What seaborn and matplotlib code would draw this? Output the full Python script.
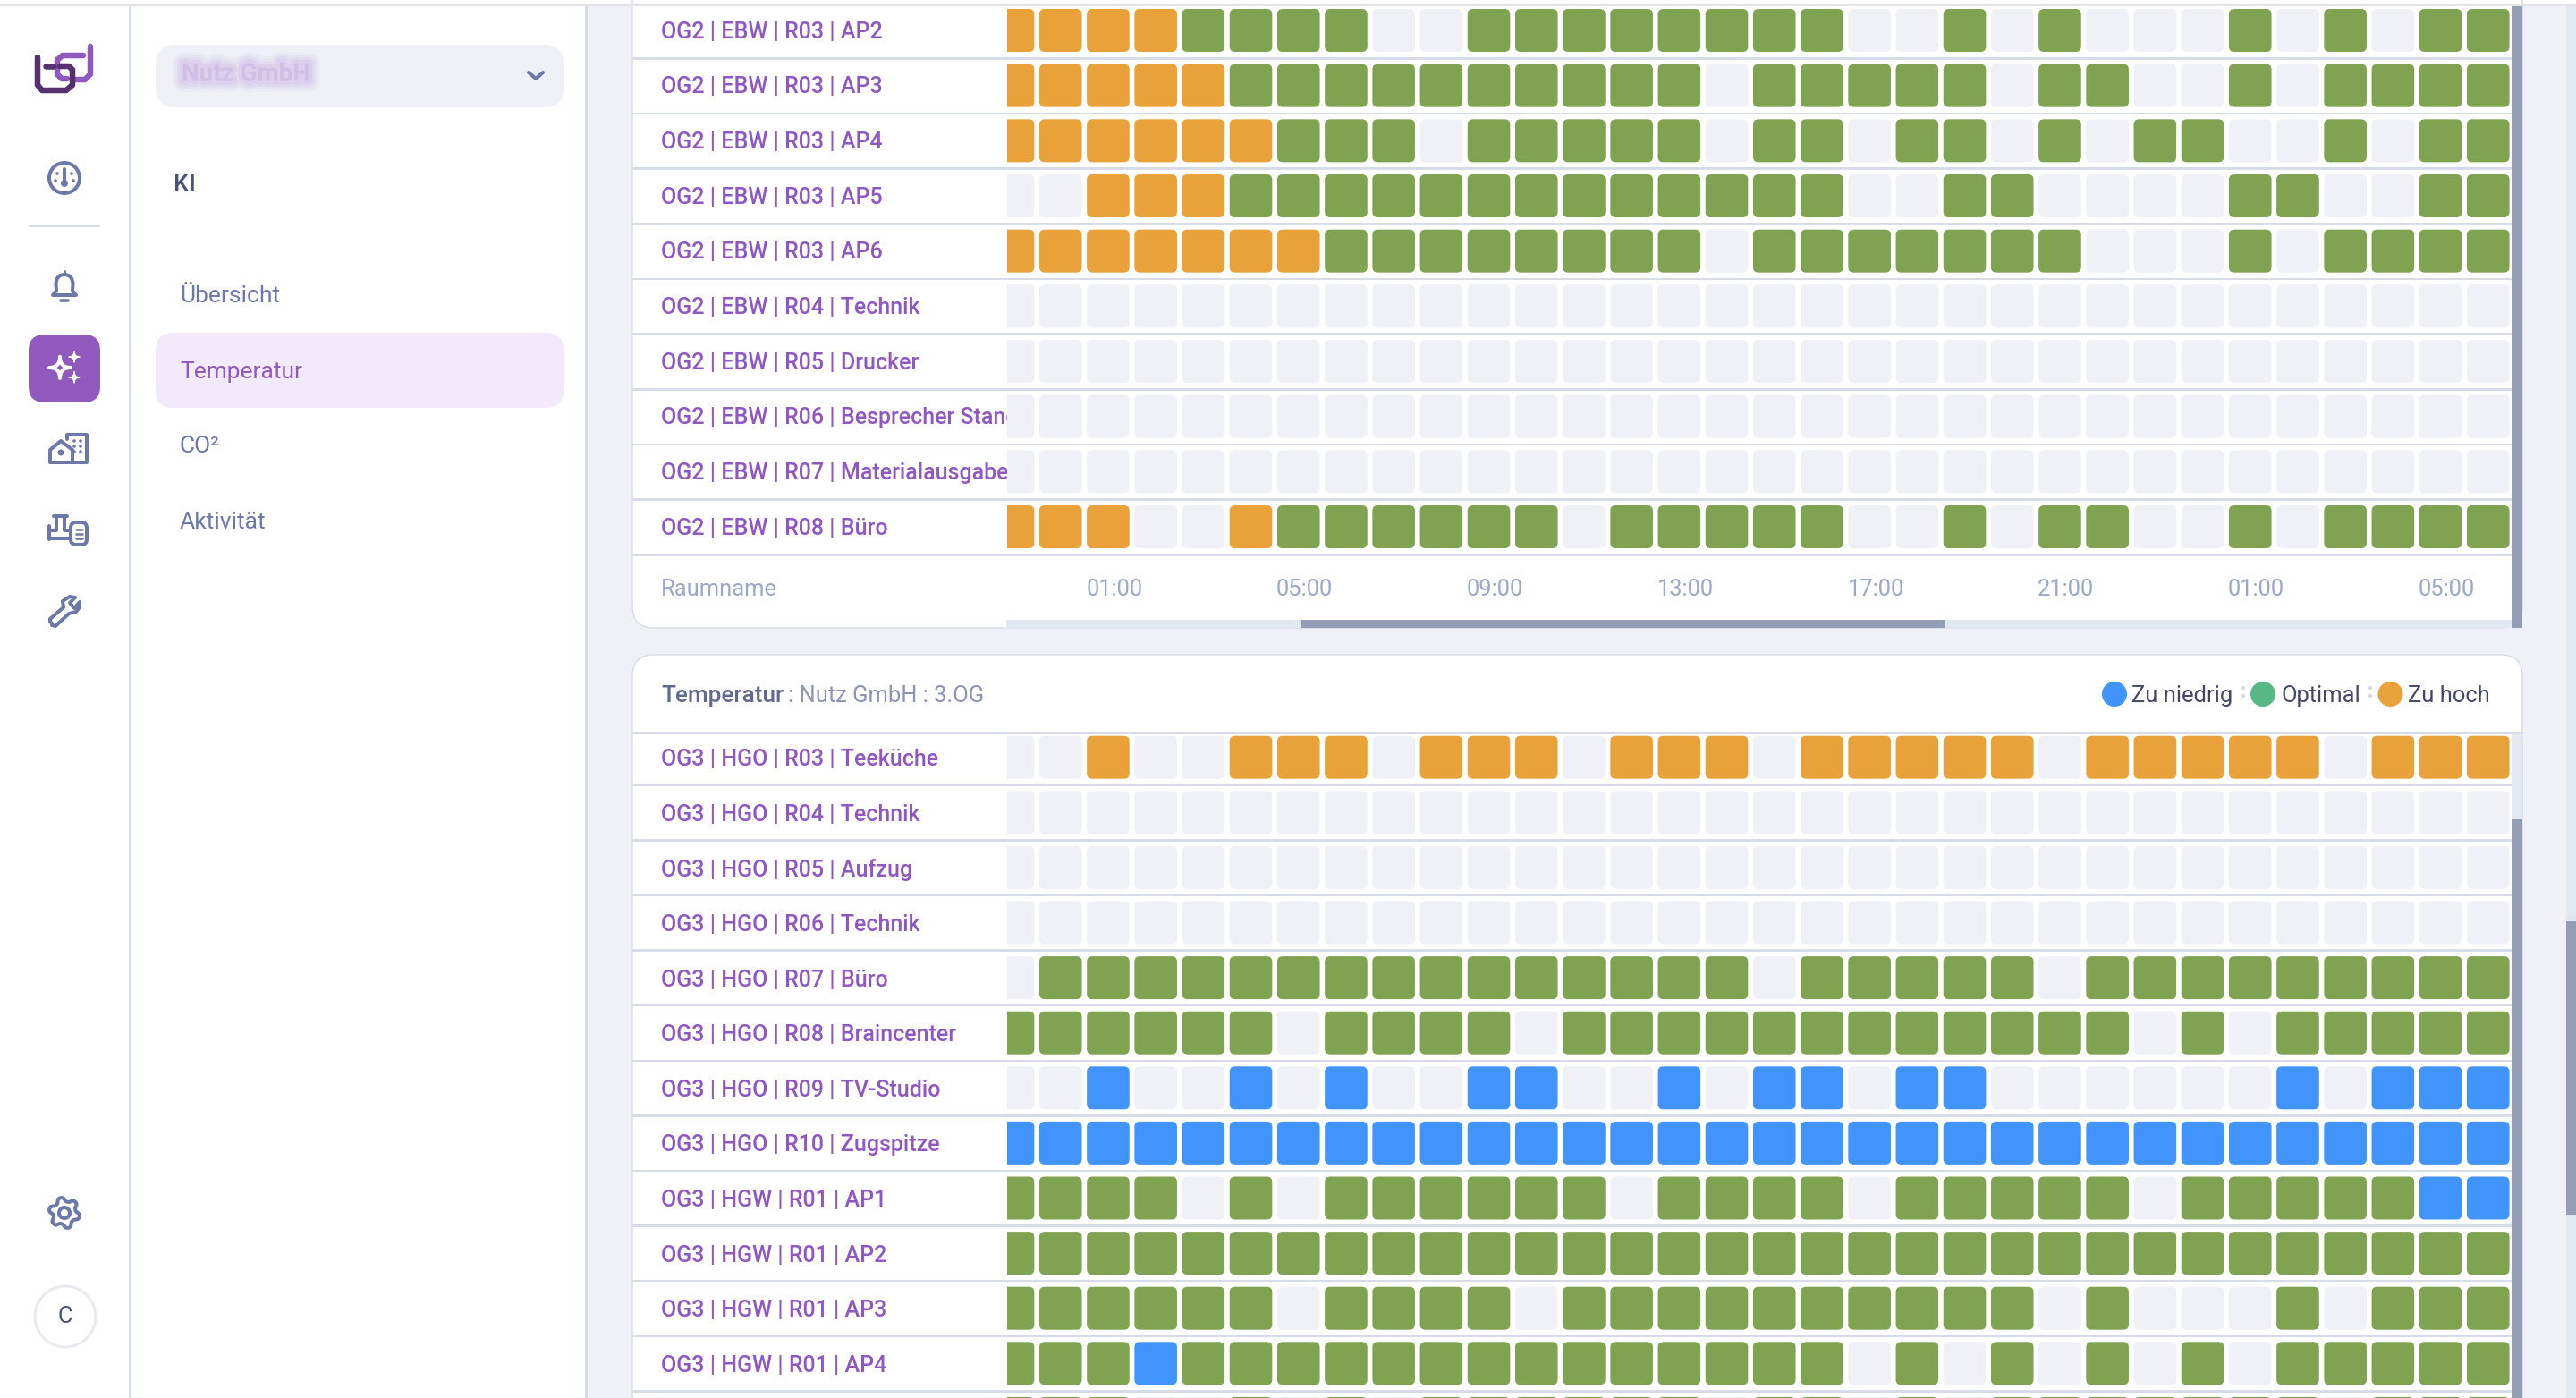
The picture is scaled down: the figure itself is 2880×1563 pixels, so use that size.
import numpy as np
import pandas as pd
import matplotlib
matplotlib.use("Agg")
import matplotlib.pyplot as plt
import seaborn as sns
from matplotlib.markers import MarkerStyle
from matplotlib.patches import Circle, FancyBboxPatch, PathPatch, Rectangle
from matplotlib.path import Path
from matplotlib.transforms import Bbox, ScaledTranslation
import matplotlib.patheffects as pe

# ---- data: O zu hoch, G optimal, B zu niedrig, _ no data ----
rooms_og2 = ["OG2 | EBW | R03 | AP2", "OG2 | EBW | R03 | AP3", "OG2 | EBW | R03 | AP4",
             "OG2 | EBW | R03 | AP5", "OG2 | EBW | R03 | AP6", "OG2 | EBW | R04 | Technik",
             "OG2 | EBW | R05 | Drucker", "OG2 | EBW | R06 | Besprecher Standort",
             "OG2 | EBW | R07 | Materialausgabe", "OG2 | EBW | R08 | Büro"]
status_og2 = ["OOOOGGGG__GGGGGGGG__G_G___G_G_GG",
              "OOOOOGGGGGGGGGG_GGGGG_GG__G_GGGG",
              "OOOOOOGGG_GGGGG_GG_GG_G_GG__G_GG",
              "__OOOGGGGGGGGGGGGG__GG____GG__GG",
              "OOOOOOOGGGGGGGG_GGGGGGG___G_GGGG",
              "________________________________",
              "________________________________",
              "________________________________",
              "________________________________",
              "OOO__OGGGGGG_GGGGG__G_GG__G_GGGG"]
rooms_og3 = ["OG3 | HGO | R03 | Teeküche", "OG3 | HGO | R04 | Technik", "OG3 | HGO | R05 | Aufzug",
             "OG3 | HGO | R06 | Technik", "OG3 | HGO | R07 | Büro", "OG3 | HGO | R08 | Braincenter",
             "OG3 | HGO | R09 | TV-Studio", "OG3 | HGO | R10 | Zugspitze", "OG3 | HGW | R01 | AP1",
             "OG3 | HGW | R01 | AP2", "OG3 | HGW | R01 | AP3", "OG3 | HGW | R01 | AP4"]
status_og3 = ["__O__OOO_OOO_OOO_OOOOO_OOOOO_OOO",
              "________________________________",
              "________________________________",
              "________________________________",
              "_GGGGGGGGGGGGGGG_GGGGG_GGGGGGGGG",
              "GGGGGG_GGGG_GGGGGGGGGGGG_G_GGGGG",
              "__B__B_B__BB__B_BB_BB______B_BBB",
              "BBBBBBBBBBBBBBBBBBBBBBBBBBBBBBBB",
              "GGGG_G_GGGGGG_GGGG_GGGGG_GGGGGBB",
              "GGGGGGGGGGGGGGGGGGGGGGGGGGGGGGGG",
              "GGGGGG_GGGG_GGGGGGGGGG_G___G_GGG",
              "GGGBGGGGGGGGGGGGGG_G_G_G_G_GGGGG",
              "GGG__G_G_GGGGGG_GG_G_GGGGGGG_GGG"]  # next row, only its top edge shows
tick_cols = [2, 6, 10, 14, 18, 22, 26, 30]
tick_labels = ["01:00", "05:00", "09:00", "13:00", "17:00", "21:00", "01:00", "05:00"]

cell_colors = {"O": "#E9A13A", "G": "#7FA350", "B": "#4094FB", "_": "#EFF1F6"}

W, H, DPI = 2880, 1563, 200
INK = "#6B78A8"
LINE = "#D8DCE8"
BG = "#EFF1F6"
TRACK = "#E3E7F0"
THUMB = "#939DB5"
PURPLE = "#9059BD"

sns.set_theme(style="white")
plt.rcParams["font.family"] = ["Roboto", "DejaVu Sans"]


def pt(px):
    return px * 72 / DPI


fig = plt.figure(figsize=(W / DPI, H / DPI), dpi=DPI, facecolor=BG)
bg = fig.add_axes([0, 0, 1, 1])
bg.set_xlim(0, W)
bg.set_ylim(H, 0)
bg.axis("off")


def rect(x0, y0, x1, y1, color, z=1):
    bg.add_patch(Rectangle((x0, y0), x1 - x0, y1 - y0, fc=color, ec="none", zorder=z))


def rbox(x0, y0, x1, y1, color, r, ec="none", lw=0, z=1):
    bg.add_patch(FancyBboxPatch((x0 + r, y0 + r), x1 - x0 - 2 * r, y1 - y0 - 2 * r,
                                boxstyle=f"round,pad={r},rounding_size={r}",
                                fc=color, ec=ec, lw=lw, zorder=z))


def stroke(pts, color=INK, lw=4, z=3, closed=False):
    pts = list(pts)
    codes = [Path.MOVETO] + [Path.LINETO] * (len(pts) - 1)
    if closed:
        pts.append(pts[0])
        codes.append(Path.CLOSEPOLY)
    bg.add_patch(PathPatch(Path(pts, codes), fc="none", ec=color, lw=pt(lw), zorder=z,
                           capstyle="round", joinstyle="round"))


def curve(verts, codes, fc="none", ec=INK, lw=4, z=3):
    bg.add_patch(PathPatch(Path(verts, codes), fc=fc, ec=ec, lw=pt(lw), zorder=z,
                           capstyle="round", joinstyle="round"))


def star(cx, cy, r, fc, ec, lw):
    pts = [(cx, cy - r), (cx, cy), (cx + r, cy), (cx, cy), (cx, cy + r), (cx, cy), (cx - r, cy), (cx, cy), (cx, cy - r)]
    codes = [Path.MOVETO] + [Path.CURVE3] * 8
    curve(pts, codes, fc=fc, ec=ec, lw=lw)


def label(x, y, s, color, size=9.2, weight="normal", ha="left", z=4):
    return bg.text(x, y, s, color=color, fontsize=size, fontweight=weight, ha=ha, va="center", zorder=z)


# ---- page chrome ----
rect(0, 0, 655, H, "white")
rect(0, 0, W, 5, "white")
rect(144, 6, 147, H, LINE)
rect(654, 6, 657, H, LINE)
rect(2869, 6, W, H, TRACK)
rect(2869, 1030, W, 1358, THUMB)

# panel 1 card, top cut off by the scroll position
rbox(707, -60, 2820, 702, "white", 24, ec=LINE, lw=0.5)
for i in range(10):
    rect(707, 64 + 61.67 * i, 2808, 66.5 + 61.67 * i, LINE, 2)
rect(1125, 693, 2808, 702, TRACK, 2)
rect(1454, 693, 2175, 702, THUMB, 3)
rect(2808, 6, 2820, 702, THUMB, 3)

# panel 2 card
rbox(707, 732, 2820, H + 60, "white", 24, ec=LINE, lw=0.5)
rect(707, 818, 2820, 821, LINE, 2)
for i in range(12):
    rect(707, 876.5 + 61.6 * i, 2808, 879 + 61.6 * i, LINE, 2)
rect(2808, 821, 2820, H, TRACK, 2)
rect(2808, 916, 2820, H, THUMB, 3)
rect(0, 5, W, 7, "#E3E3E6", 5)

# panel 2 header + legend
label(739, 778, "Temperatur", "#5F6A8E", size=9.4, weight=500)
label(881, 778, ": Nutz GmbH : 3.OG", "#8A95B5", size=9.2)
for cx, color, x_text, name in [(2364, "#4094FB", 2383, "Zu niedrig"),
                                (2530, "#57B785", 2551, "Optimal"),
                                (2672.5, "#E9A13A", 2692, "Zu hoch")]:
    bg.add_patch(Circle((cx, 776), 14, fc=color, ec="none", zorder=3))
    label(x_text, 778, name, "#424867", size=9.2)
for x in (2508, 2650):
    for y in (769, 778):
        bg.add_patch(Circle((x, y), 2.2, fc=LINE, ec="none", zorder=3))

# ---- second nav column ----
rbox(174, 50, 630, 120, BG, 22)
blurred = label(203, 83, "Nutz GmbH", "#C3A8E2", size=10, weight="bold")
blurred.set_alpha(0.3)
blurred.set_path_effects([pe.Stroke(linewidth=w, foreground="#B795DC", alpha=a)
                          for w, a in [(9, 0.06), (7, 0.08), (5, 0.10), (3, 0.14)]])
stroke([(591, 81), (599, 88), (607, 81)], "#6B78A8", 4)
label(194, 206, "KI", "#4B5273", size=9.8, weight=500)
rbox(174, 372, 630, 456, "#F2EAFA", 20)
label(201, 331, "Übersicht", INK, size=9.5)
label(201, 416, "Temperatur", PURPLE, size=9.5)
label(201, 499, "CO²", INK, size=9.5)
label(201, 584, "Aktivität", INK, size=9.5)

# ---- icon rail ----
# logo
DARK, LIGHT = "#56306F", "#9059BD"
stroke([(101, 52), (101, 83), (95, 89), (83, 89)], LIGHT, 6.5)
stroke([(93, 62), (70, 62), (64, 67), (64, 83), (69, 88), (75, 88)], LIGHT, 6.5)
stroke([(42, 64), (42, 95), (47, 101), (74, 101), (81, 95), (81, 78), (77, 74), (67, 74)], DARK, 6.5)
stroke([(51, 74), (60, 74)], DARK, 6.5)
# gauge
bg.add_patch(Circle((72, 199), 17, fc="none", ec=INK, lw=pt(4), zorder=3))
stroke([(72, 189), (72, 204)], INK, 4)
bg.add_patch(Circle((72, 205), 4, fc=INK, ec="none", zorder=3))
for x, y in [(64, 194), (80, 194), (62, 202), (82, 202)]:
    bg.add_patch(Circle((x, y), 1.8, fc=INK, ec="none", zorder=3))
rect(32, 251, 112, 254, LINE)
# bell
curve([(59, 330), (63, 325), (62.5, 318), (62.5, 307), (72, 307), (81.5, 307), (81.5, 318), (81, 325), (85, 330), (59, 330)],
      [Path.MOVETO, Path.LINETO, Path.LINETO, Path.CURVE3, Path.CURVE3, Path.CURVE3, Path.LINETO, Path.LINETO, Path.LINETO, Path.CLOSEPOLY])
stroke([(72, 303), (72, 306)], INK, 3)
stroke([(68, 336), (76, 336)], INK, 3.5)
# active sparkle button
rbox(32, 374, 112, 450, PURPLE, 18)
star(67, 411, 12, "none", "white", 4)
star(83, 399, 6, "white", "white", 1.5)
star(83, 422, 6, "white", "white", 1.5)
# buildings
stroke([(56, 517), (56, 503), (68, 493), (81, 503), (81, 517)], INK, 4, closed=True)
bg.add_patch(Circle((68, 506), 3.5, fc=INK, ec="none", zorder=3))
stroke([(75, 491), (75, 486), (97, 486), (97, 517), (82, 517)], INK, 4)
for x in (83, 90):
    for y in (493, 499, 505):
        bg.add_patch(Circle((x, y), 1.8, fc=INK, ec="none", zorder=3))
# factory
stroke([(60, 577), (75, 577)], INK, 4)
stroke([(55, 588), (55, 603)], INK, 4)
stroke([(55, 593), (63, 593), (63, 577)], INK, 4)
stroke([(72, 577), (72, 593), (77, 593)], INK, 4)
stroke([(55, 602), (77, 602)], INK, 4)
rbox(79, 584, 97, 609, "none", 6, ec=INK, lw=pt(4), z=3)
for y in (592, 597, 602):
    stroke([(85, y), (92, y)], INK, 2.5)
# wrench
stroke([(58, 697), (56, 695), (56, 692), (71, 679), (70, 672), (78, 667), (84, 668), (78, 674), (83, 680), (89, 673),
        (89, 679), (85, 684), (77, 686), (62, 700), (58, 699)], INK, 4, closed=True)
# gear
th = np.linspace(0, 2 * np.pi, 97)
rad = 15 + 2.3 * np.sign(np.sin(6 * th)) * np.abs(np.sin(6 * th)) ** 0.5
stroke(list(zip(72 + rad * np.sin(th), 1356 + rad * np.cos(th))), INK, 4)
bg.add_patch(Circle((72, 1356), 6, fc="none", ec=INK, lw=pt(4), zorder=3))
# user badge
bg.add_patch(Circle((73, 1472), 34, fc="white", ec="#E8EAF2", lw=pt(3), zorder=3))
label(73, 1472, "C", "#4B5273", size=9.2, ha="center")

# ---- the two status grids ----
cell_w, cell_h = 47.6, 48
r = 0.125
hw = cell_w / cell_h / 2
marker_path = Path(
    [(-hw + r, -0.5), (hw - r, -0.5), (hw, -0.5), (hw, -0.5 + r), (hw, 0.5 - r), (hw, 0.5), (hw - r, 0.5),
     (-hw + r, 0.5), (-hw, 0.5), (-hw, 0.5 - r), (-hw, -0.5 + r), (-hw, -0.5), (-hw + r, -0.5), (-hw + r, -0.5)],
    [Path.MOVETO, Path.LINETO, Path.CURVE3, Path.CURVE3, Path.LINETO, Path.CURVE3, Path.CURVE3,
     Path.LINETO, Path.CURVE3, Path.CURVE3, Path.LINETO, Path.CURVE3, Path.CURVE3, Path.CLOSEPOLY])
cell_marker = MarkerStyle(marker_path)
COL0, COL_STEP = 1132.55, 53.2


def grid(rooms, status, top, bottom, row0, row_step, show_ticks, lift):
    df = pd.DataFrame([{"row": i, "col": j, "state": s}
                       for i, line in enumerate(status) for j, s in enumerate(line)])
    left, right = 1126, 2808
    ax = fig.add_axes([left / W, 1 - bottom / H, (right - left) / W, (bottom - top) / H], zorder=2)
    ax.patch.set_alpha(0)
    sns.scatterplot(data=df, x="col", y="row", hue="state", palette=cell_colors, marker=cell_marker,
                    s=pt(cell_h) ** 2, linewidth=0, edgecolor="none", legend=False, ax=ax)
    ax.set_xlim((left - COL0) / COL_STEP, (right - COL0) / COL_STEP)
    ax.set_ylim((bottom - row0) / row_step, (top - row0) / row_step)
    ax.set_xlabel("")
    ax.set_ylabel("")
    sns.despine(ax=ax, left=True, bottom=True)
    ax.set_yticks(range(len(rooms)), rooms)
    ax.tick_params(axis="y", length=0, pad=pt(left - 739), labelsize=9.0, labelcolor="#8E57C2")
    clip = Bbox([[0, 0], [left, H]])
    nudge = ScaledTranslation(0, pt(lift) / 72, fig.dpi_scale_trans)
    for tl in ax.get_yticklabels():
        tl.set_ha("left")
        tl.set_fontweight(500)
        tl.set_clip_box(clip)
        tl.set_clip_on(True)
        tl.set_transform(tl.get_transform() + nudge)
    if show_ticks:
        ax.set_xticks([c + 0.13 for c in tick_cols], tick_labels)
        ax.tick_params(axis="x", length=0, pad=pt(27), labelsize=9.2, labelcolor="#9AA9C7")
    else:
        ax.set_xticks([])
    return ax


grid(rooms_og2, status_og2, 6, 620, 34, 61.67, True, 0.8)
grid(rooms_og3, status_og3, 821, H, 846.7, 61.6, False, 0)
label(739, 659, "Raumname", "#9AA9C7", size=9.2)

fig.savefig("out.png", dpi=DPI, facecolor=BG)
